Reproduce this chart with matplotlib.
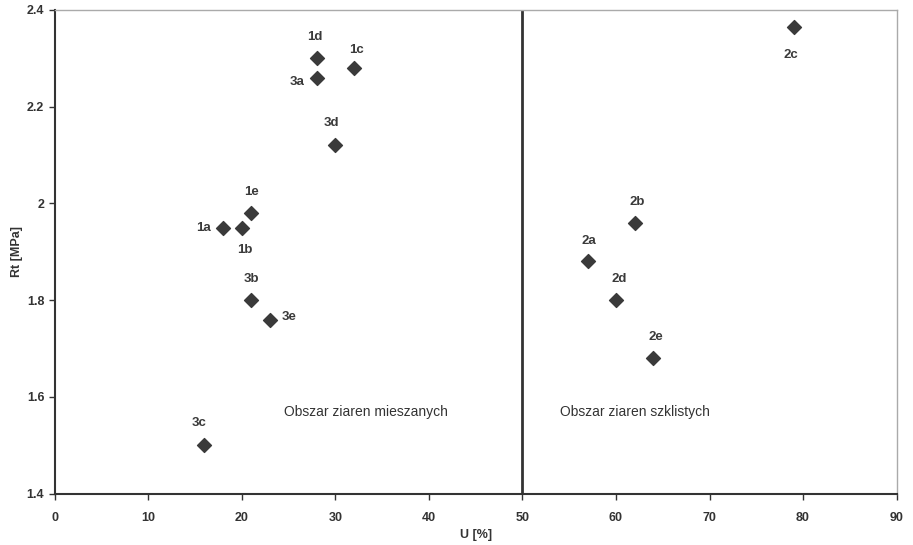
import matplotlib.pyplot as plt

plt.rcParams['font.family'] = ['Liberation Sans', 'DejaVu Sans']

etykiety = ["1a", "1b", "1c", "1d", "1e", "3a", "3b", "3c", "3d", "3e",
            "2a", "2b", "2c", "2d", "2e"]
u = [18, 20, 32, 28, 21, 28, 21, 16, 30, 23, 57, 62, 79, 60, 64]
rt = [1.95, 1.95, 2.28, 2.30, 1.98, 2.26, 1.80, 1.50, 2.12, 1.76,
      1.88, 1.96, 2.365, 1.80, 1.68]

# przesuniecia etykiet w punktach (dx, dy)
przes = {"1a": (-14, 0), "1b": (2, -16), "1c": (2, 13), "1d": (-1, 15),
         "1e": (0, 15), "3a": (-14, -3), "3b": (0, 15), "3c": (-4, 16),
         "3d": (-3, 16), "3e": (14, 2), "2a": (1, 15), "2b": (2, 15),
         "2c": (-2, -20), "2d": (2, 15), "2e": (2, 15)}

fig = plt.figure(figsize=(9.13, 5.45), dpi=100)
ax = fig.add_axes([0.060, 0.094, 0.922, 0.888])

ax.scatter(u, rt, marker='D', s=50, color='#3a3a3a', zorder=3)
for e, x, y in zip(etykiety, u, rt):
    dx, dy = przes[e]
    ax.annotate(e, (x, y), xytext=(dx, dy), textcoords='offset points',
                ha='center', va='center', fontsize=9.5, fontweight='bold',
                color='#3a3a3a')

ax.axvline(50, color='#333333', lw=2)
ax.text(24.5, 1.56, "Obszar ziaren mieszanych", fontsize=10, color='#333333')
ax.text(54.0, 1.56, "Obszar ziaren szklistych", fontsize=10, color='#333333')

ax.set_xlim(0, 90)
ax.set_ylim(1.4, 2.4)
ax.set_xticks(range(0, 91, 10))
ax.set_yticks([1.4, 1.6, 1.8, 2.0, 2.2, 2.4])
ax.set_yticklabels(["1.4", "1.6", "1.8", "2", "2.2", "2.4"])
ax.tick_params(labelsize=9, length=4, width=1, colors='#333333')
ax.tick_params(axis='x', pad=9)
for t in ax.get_xticklabels() + ax.get_yticklabels():
    t.set_fontweight('bold')

for s in ['left', 'bottom']:
    ax.spines[s].set_color('#333333')
    ax.spines[s].set_linewidth(1.5)
for s in ['top', 'right']:
    ax.spines[s].set_color('#aaaaaa')
    ax.spines[s].set_linewidth(1)

ax.set_xlabel("U [%]", fontsize=9, fontweight='bold', color='#333333', labelpad=4)
ax.set_ylabel("Rt [MPa]", fontsize=9, fontweight='bold', color='#333333', labelpad=3)

plt.savefig("out.png", dpi=100)
